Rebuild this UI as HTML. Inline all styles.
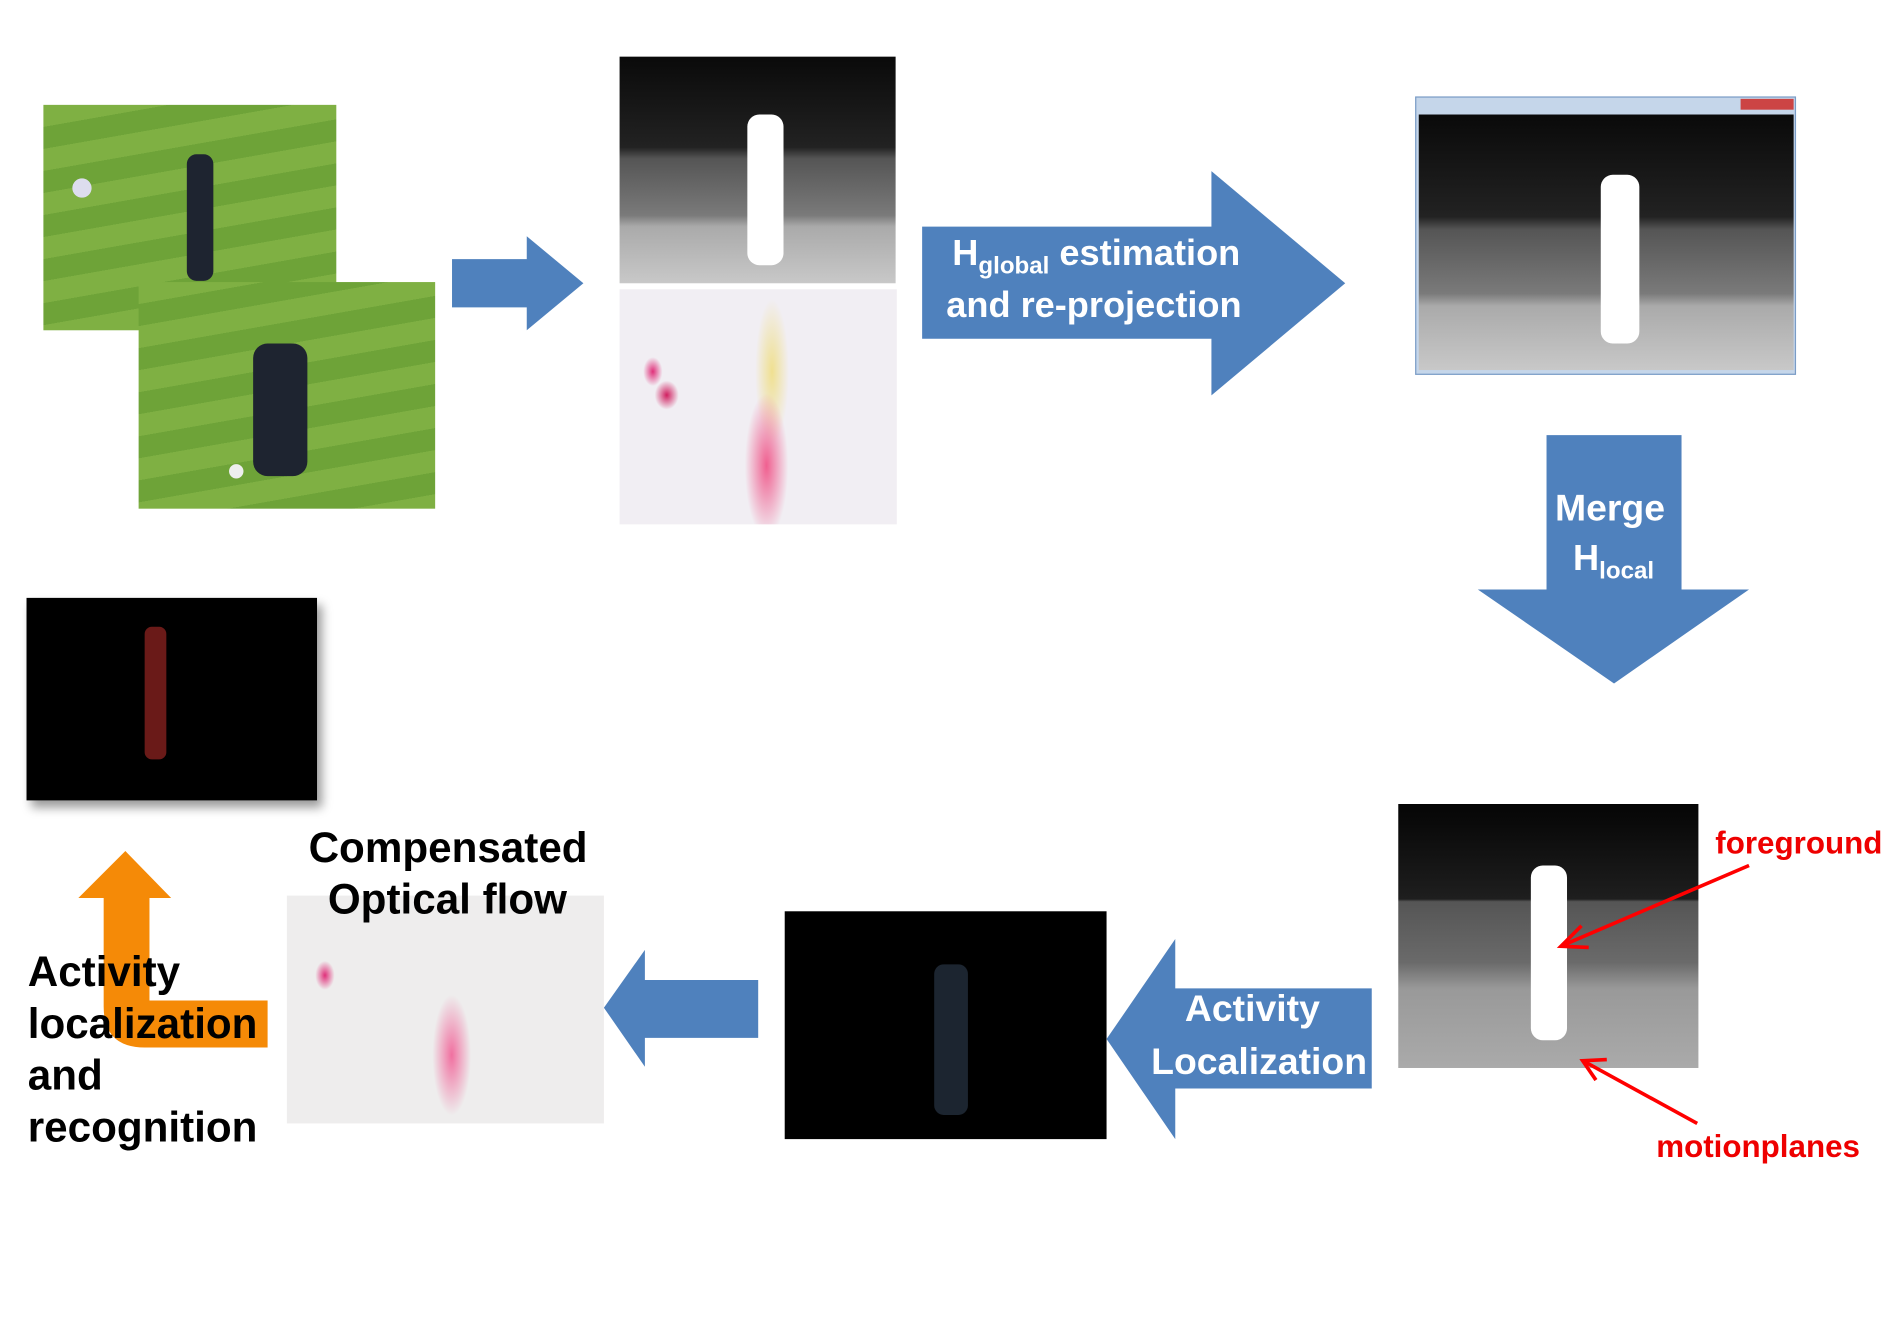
<!DOCTYPE html>
<html><head><meta charset="utf-8"><style>
html,body{margin:0;padding:0;background:#fff;}
body{width:1890px;height:1323px;overflow:hidden;position:relative;}
#s{position:absolute;left:0;top:0;width:1568px;height:1098px;transform:scale(1.2054);transform-origin:0 0;}
.a{position:absolute;}
.t{position:absolute;font-family:"Liberation Sans",sans-serif;font-weight:bold;white-space:nowrap;}
.grass{background:repeating-linear-gradient(170deg,#7fb043 0 18px,#6ea338 18px 36px);}
.depth{background:linear-gradient(#0a0a0a 0%,#222 40%,#555 45%,#7a7a7a 70%,#aaa 75%,#c8c8c8 100%);}
.flow{background:radial-gradient(ellipse 8px 12px at 12% 35%,#e0307a,transparent),radial-gradient(ellipse 10px 12px at 17% 45%,#d02060,transparent),radial-gradient(ellipse 18px 60px at 53% 75%,#f06090,transparent),radial-gradient(ellipse 14px 60px at 55% 35%,#f0e090,transparent),#f1eef3;}
</style></head><body><div id="s">
<div class="a grass" style="left:36px;top:87px;width:243px;height:187px;"></div>
<div class="a" style="left:155px;top:128px;width:22px;height:105px;background:#1e2430;border-radius:8px;"></div>
<div class="a" style="left:60px;top:148px;width:16px;height:16px;background:#dde;border-radius:50%;"></div>
<div class="a grass" style="left:115px;top:234px;width:246px;height:188px;"></div>
<div class="a" style="left:210px;top:285px;width:45px;height:110px;background:#1e2430;border-radius:12px;"></div>
<div class="a" style="left:190px;top:385px;width:12px;height:12px;background:#eee;border-radius:50%;"></div>
<svg class="a" style="left:0;top:0" width="1568" height="1098">
<polygon points="375,215 437,215 437,196 484,235 437,274 437,255 375,255" fill="#4f81bd"/>
<polygon points="765,188 1005,188 1005,142 1116,235 1005,328 1005,281 765,281" fill="#4f81bd"/>
<polygon points="1283,361 1395,361 1395,489 1451,489 1339,567 1226,489 1283,489" fill="#4f81bd"/>
<polygon points="629,813 535,813 535,788 501,836 535,885 535,861 629,861" fill="#4f81bd"/>
<polygon points="1138,820 975,820 975,779 918,862 975,945 975,903 1138,903" fill="#4f81bd"/>
<path d="M86,745 L86,835 Q86,869 120,869 L222,869 L222,830 L124,830 L124,745 L142,745 L104,706 L65,745 Z" fill="#f58a07"/>
</svg>
<div class="a depth" style="left:514px;top:47px;width:229px;height:188px;"></div>
<div class="a" style="left:620px;top:95px;width:30px;height:125px;background:#fff;border-radius:10px;"></div>
<div class="a flow" style="left:514px;top:240px;width:230px;height:195px;"></div>
<div class="a" style="left:1174px;top:80px;width:316px;height:231px;background:#c5d6ea;border:1px solid #7a9cc6;box-sizing:border-box;"></div>
<div class="a depth" style="left:1177px;top:95px;width:311px;height:212px;"></div>
<div class="a" style="left:1328px;top:145px;width:32px;height:140px;background:#fff;border-radius:10px;"></div>
<div class="a" style="left:1444px;top:82px;width:44px;height:9px;background:#c44;"></div>
<div class="a" style="left:22px;top:496px;width:241px;height:168px;background:#000;box-shadow:4px 6px 8px rgba(0,0,0,.4);"></div>
<div class="a" style="left:120px;top:520px;width:18px;height:110px;background:#6a1a18;border-radius:6px;"></div>
<div class="a" style="left:238px;top:743px;width:263px;height:189px;background:radial-gradient(ellipse 8px 12px at 12% 35%,#e0307a,transparent),radial-gradient(ellipse 16px 50px at 52% 70%,#f070a0,transparent),#eeeded;"></div>
<div class="a" style="left:651px;top:756px;width:267px;height:189px;background:#000;"></div>
<div class="a" style="left:775px;top:800px;width:28px;height:125px;background:#1c2530;border-radius:8px;"></div>
<div class="a" style="left:1160px;top:667px;width:249px;height:219px;background:linear-gradient(#050505 0%,#1e1e1e 36%,#555 37%,#6a6a6a 60%,#999 70%,#aaa 100%);"></div>
<div class="a" style="left:1270px;top:718px;width:30px;height:145px;background:#fff;border-radius:10px;"></div>
<svg class="a" style="left:0;top:0" width="1568" height="1098">
<line x1="1451" y1="718" x2="1297" y2="784" stroke="#f00" stroke-width="3"/>
<polyline points="1312,768 1295,785 1318,786" fill="none" stroke="#f00" stroke-width="3"/>
<line x1="1408" y1="932" x2="1315" y2="881" stroke="#f00" stroke-width="3"/>
<polyline points="1324,896 1313,880 1333,879" fill="none" stroke="#f00" stroke-width="3"/>
</svg>
<div class="t" style="left:790px;top:194px;color:#fff;font-size:30px;">H<sub style="font-size:20px">global</sub> estimation</div>
<div class="t" style="left:785px;top:237px;color:#fff;font-size:30px;">and re-projection</div>
<div class="t" style="left:1290px;top:404px;color:#fff;font-size:31px;">Merge</div>
<div class="t" style="left:1305px;top:447px;color:#fff;font-size:30px;">H<sub style="font-size:20px">local</sub></div>
<div class="t" style="left:983px;top:819px;color:#fff;font-size:31px;">Activity</div>
<div class="t" style="left:955px;top:863px;color:#fff;font-size:31px;">Localization</div>
<div class="t" style="left:1423px;top:684px;color:#e00;font-size:26px;">foreground</div>
<div class="t" style="left:1374px;top:936px;color:#e00;font-size:26px;">motionplanes</div>
<div class="t" style="left:256px;top:684px;color:#000;font-size:35px;">Compensated</div>
<div class="t" style="left:272px;top:727px;color:#000;font-size:35px;">Optical flow</div>
<div class="t" style="left:23px;top:785px;color:#000;font-size:35px;line-height:43px;">Activity<br>localization<br>and<br>recognition</div>
</div></body></html>
